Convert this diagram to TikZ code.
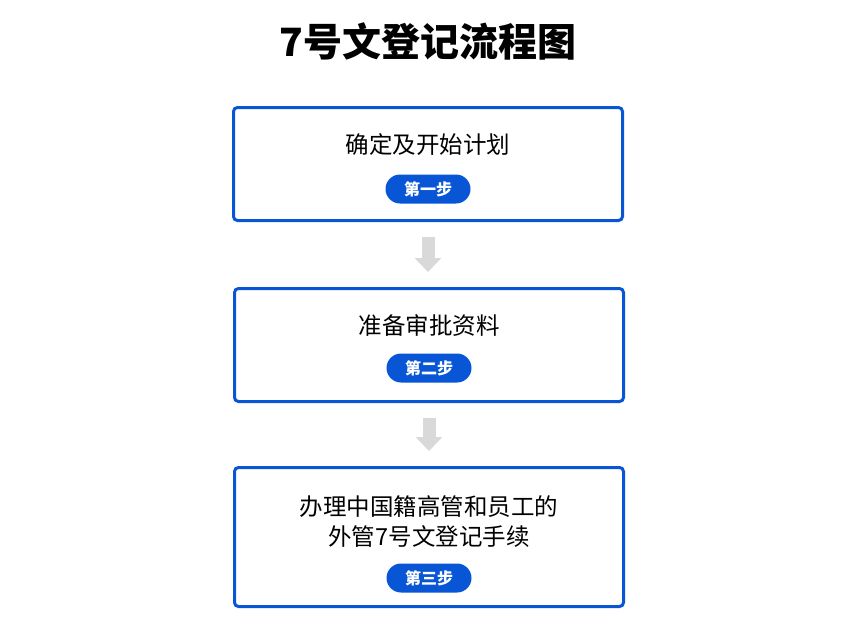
\documentclass[tikz,border=0pt]{standalone}
\usepackage{fontspec}
\setmainfont{Noto Sans CJK SC}
\usetikzlibrary{positioning,arrows.meta}

\definecolor{stepblue}{RGB}{8,86,214}
\definecolor{arrowgray}{RGB}{217,217,217}

\tikzset{
  stepbox/.style={draw=stepblue,line width=3pt,rounded corners=4pt,minimum width=389pt,minimum height=113pt,inner sep=0pt},
  steptext/.style={font=\fontsize{23.5}{30}\selectfont,align=center,inner sep=0pt},
  steppill/.style={fill=stepblue,text=white,rounded corners=14.5pt,minimum width=85pt,minimum height=29pt,inner sep=0pt,font=\fontsize{16}{16}\bfseries\selectfont},
  flowarrow/.style={draw=arrowgray,line width=13pt,-{Triangle[width=26pt,length=14pt]},shorten <=15pt,shorten >=15pt}
}

\begin{document}
\begin{tikzpicture}[x=1pt,y=1pt]
\useasboundingbox (0,0) rectangle (855,-629);

% Title
\node (title) at (428,-41) [font=\fontsize{39}{39}\bfseries\selectfont] {7号文登记流程图};

% Step boxes
\node (box1) at (428,-164) [stepbox] {};
\node (box2) at (429,-345) [stepbox] {};
\node (box3) at (429,-537) [stepbox,minimum height=139pt] {};

% Step texts
\node (text1) at ([yshift=19pt]box1.center) [steptext] {确定及开始计划};
\node (text2) at ([yshift=19pt]box2.center) [steptext] {准备审批资料};
\node (text3) at ([yshift=15pt]box3.center) [steptext] {办理中国籍高管和员工的\\外管7号文登记手续};

% Step pills
\node (pill1) at ([yshift=-25pt]box1.center) [steppill] {第一步};
\node (pill2) at ([yshift=-23pt]box2.center) [steppill] {第二步};
\node (pill3) at ([yshift=-41pt]box3.center) [steppill] {第三步};

% Arrows
\draw[flowarrow] (box1) -- (box1 |- box2.north);
\draw[flowarrow] (box2) -- (box3);

\end{tikzpicture}
\end{document}
